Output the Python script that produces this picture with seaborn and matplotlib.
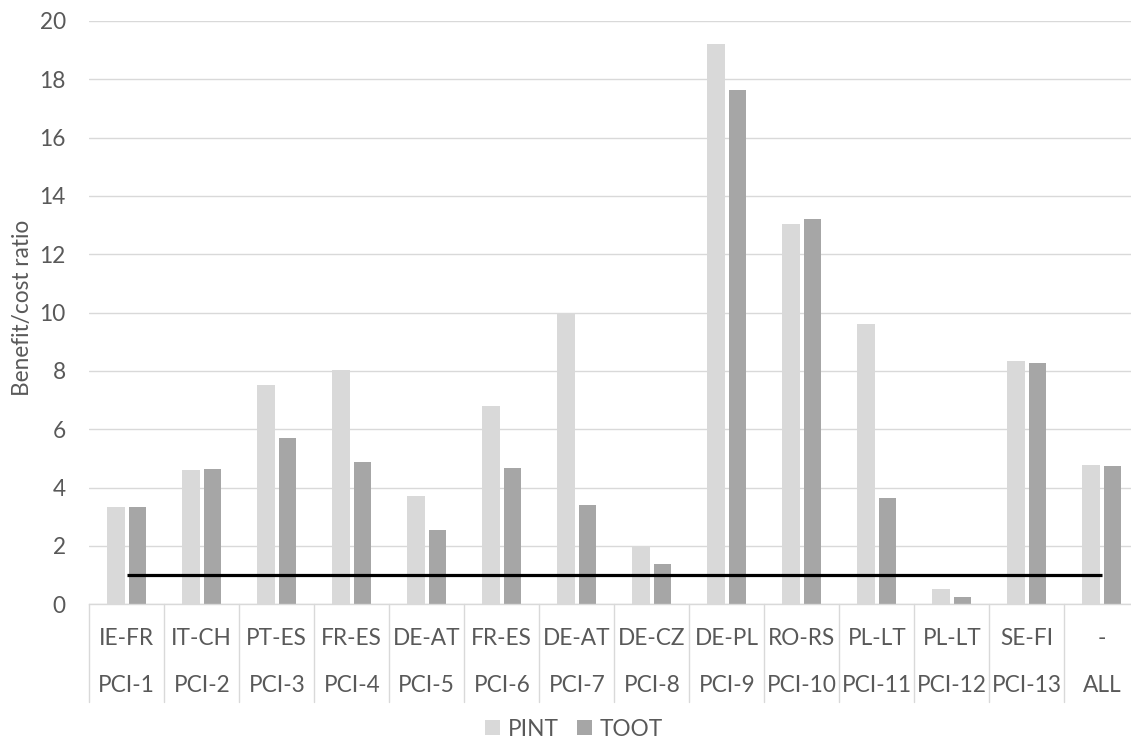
import matplotlib
matplotlib.use("Agg")
import matplotlib.pyplot as plt
import matplotlib.transforms as mtransforms
from matplotlib.patches import Patch
import numpy as np
import pandas as pd
import seaborn as sns

# Project identifiers (outer row) and border pairs (inner row)
projects = ["PCI-1", "PCI-2", "PCI-3", "PCI-4", "PCI-5", "PCI-6", "PCI-7",
            "PCI-8", "PCI-9", "PCI-10", "PCI-11", "PCI-12", "PCI-13", "ALL"]
borders = ["IE-FR", "IT-CH", "PT-ES", "FR-ES", "DE-AT", "FR-ES", "DE-AT",
           "DE-CZ", "DE-PL", "RO-RS", "PL-LT", "PL-LT", "SE-FI", "-"]

# Benefit/cost ratios per methodology
pint = [3.34, 4.59, 7.52, 8.04, 3.72, 6.79, 9.94, 2.00, 19.22, 13.03, 9.60, 0.54, 8.34, 4.77]
toot = [3.34, 4.63, 5.70, 4.88, 2.54, 4.68, 3.40, 1.38, 17.62, 13.21, 3.64, 0.26, 8.27, 4.75]

series_names = ["PINT", "TOOT"]
threshold = 1.0

y_ticks = [0, 2, 4, 6, 8, 10, 12, 14, 16, 18, 20]

TEXT = "#595959"
GRID = "#D9D9D9"
palette = {"PINT": "#D9D9D9", "TOOT": "#A6A6A6"}

sns.set_theme(style="white")
plt.rcParams["font.family"] = ["Lato", "DejaVu Sans"]
plt.rcParams["text.color"] = TEXT
FS = 16.3

df = pd.DataFrame({
    "key": list(range(len(projects))) * 2,
    "ratio": pint + toot,
    "method": [series_names[0]] * len(projects) + [series_names[1]] * len(projects),
})

W, H = 1131, 742
fig = plt.figure(figsize=(W / 100, H / 100), dpi=100)
ax = fig.add_axes([89.3 / W, (H - 604.3) / H, 1050 / W, 583.4 / H])

sns.barplot(data=df, x="key", y="ratio", hue="method", palette=palette,
            hue_order=series_names, width=0.576, gap=0.18, linewidth=0,
            legend=False, ax=ax)

n = len(projects)
pos = np.arange(n)
ax.plot(pos, [threshold] * n, color="black", lw=2.3, solid_capstyle="butt", zorder=5)

ax.set_xlim(-0.5, n - 0.5)
ax.set_ylim(y_ticks[0], y_ticks[-1])
ax.set_yticks(y_ticks)
ax.set_yticklabels([str(t) for t in y_ticks])
ax.tick_params(axis="y", length=0, pad=17, labelsize=FS, labelcolor=TEXT)
ax.set_xticks([])
ax.set_xlabel("")
ax.set_ylabel("")
ax.grid(axis="y", color=GRID, lw=1.0)
ax.set_axisbelow(True)
for side in ["top", "right", "left"]:
    ax.spines[side].set_visible(False)
ax.spines["bottom"].set_color(GRID)
ax.spines["bottom"].set_linewidth(1.0)

# Two-level category axis with separators
trans = mtransforms.blended_transform_factory(ax.transData, ax.transAxes)
for i in range(n):
    ax.text(pos[i], -0.0586, borders[i], transform=trans, ha="center", va="center",
            fontsize=FS, color=TEXT)
    ax.text(pos[i], -0.140, projects[i], transform=trans, ha="center", va="center",
            fontsize=FS, color=TEXT)
for i in range(n + 1):
    ax.plot([i - 0.5, i - 0.5], [0, -0.1675], transform=trans, color=GRID,
            lw=1.0, clip_on=False)

fig.text(22 / W, (H - 308) / H, "Benefit/cost ratio", rotation=90,
         ha="center", va="center", fontsize=FS, color=TEXT)

handles = [Patch(facecolor=palette[s], edgecolor="none", label=s) for s in series_names]
fig.legend(handles=handles, loc="center", bbox_to_anchor=(574 / W, (H - 729) / H),
           ncol=2, frameon=False, fontsize=FS, handlelength=0.65, handleheight=0.65,
           handletextpad=0.35, columnspacing=0.8, labelcolor=TEXT)

fig.savefig("out.png", dpi=100)
